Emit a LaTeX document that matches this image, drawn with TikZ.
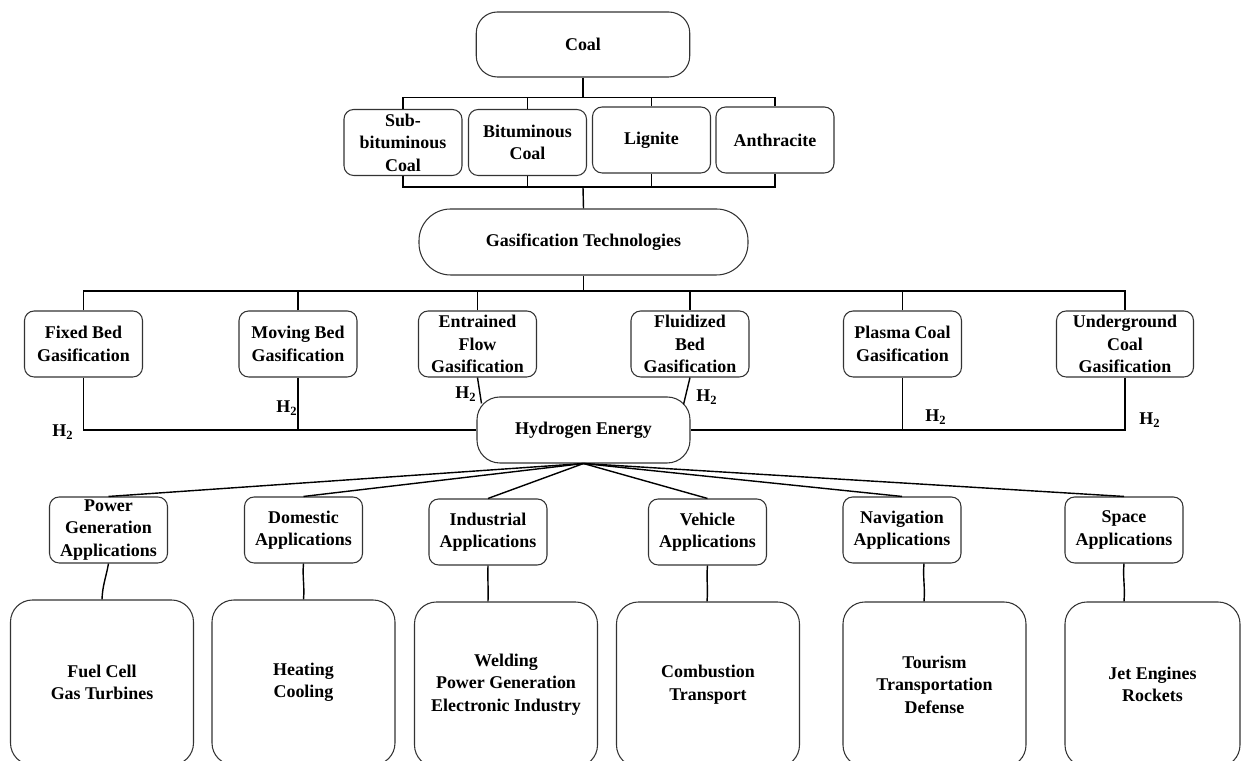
\documentclass[tikz,border=0pt]{standalone}
\usepackage{fontspec}
\setmainfont{Liberation Serif}
\usetikzlibrary{positioning,calc}

\begin{document}
\begin{tikzpicture}[
  every node/.style={font=\fontsize{10.2}{12.8}\selectfont\bfseries},
  box/.style={draw=black!80, fill=white, rounded corners=5.5pt,
              minimum width=2.36cm, minimum height=1.32cm,
              align=center, inner sep=1pt, line width=0.6pt},
  topbox/.style={box, rounded corners=12pt, minimum width=4.27cm},
  usebox/.style={box, rounded corners=12.5pt, minimum width=3.66cm,
                 minimum height=3.3cm},
  link/.style={draw=black, line width=0.8pt},
  hlab/.style={inner sep=0pt}
]
\useasboundingbox (0,0) rectangle (24.84,15.22);

%% Coal and coal types
\node[topbox, minimum height=1.3cm] (coal) at (11.66,14.33) {Coal};
\node[box] (sub) at (8.06,12.37)  {Sub-\\bituminous\\Coal};
\node[box] (bit) at (10.55,12.37) {Bituminous\\Coal};
\node[box] (lig) at (13.03,12.42) {Lignite};
\node[box] (ant) at (15.50,12.42) {Anthracite};

%% Gasification
\node[box, rounded corners=18pt, minimum width=6.58cm] (gas) at (11.67,10.38)
  {Gasification Technologies};
\node[box] (fixed)  at (1.67,8.34)  {Fixed Bed\\Gasification};
\node[box] (moving) at (5.96,8.34)  {Moving Bed\\Gasification};
\node[box] (entr)   at (9.55,8.34)  {Entrained\\Flow\\Gasification};
\node[box] (fluid)  at (13.80,8.34) {Fluidized\\Bed\\Gasification};
\node[box] (plasma) at (18.05,8.34) {Plasma Coal\\Gasification};
\node[box, minimum width=2.74cm] (under) at (22.50,8.34)
  {Underground\\Coal\\Gasification};

%% Hydrogen
\node[topbox, rounded corners=13pt, minimum width=4.26cm] (hyd) at (11.67,6.62)
  {Hydrogen Energy};

%% Applications
\node[box] (pga) at (2.17,4.62)  {Power\\Generation\\Applications};
\node[box] (dom) at (6.07,4.62)  {Domestic\\Applications};
\node[box] (ind) at (9.76,4.58)  {Industrial\\Applications};
\node[box] (veh) at (14.15,4.58) {Vehicle\\Applications};
\node[box] (nav) at (18.04,4.62) {Navigation\\Applications};
\node[box] (spa) at (22.48,4.62) {Space\\Applications};

%% Uses
\node[usebox] (fuel) at (2.04,1.57)  {Fuel Cell\\Gas Turbines};
\node[usebox] (heat) at (6.07,1.57)  {Heating\\Cooling};
\node[usebox] (weld) at (10.12,1.53) {Welding\\Power Generation\\Electronic Industry};
\node[usebox] (comb) at (14.16,1.53) {Combustion\\Transport};
\node[usebox] (tour) at (18.69,1.53) {Tourism\\Transportation\\Defense};
\node[usebox, minimum width=3.5cm] (jet) at (23.05,1.53) {Jet Engines\\Rockets};

%% Coal tree
\coordinate (topbar) at (11.66,13.27);
\coordinate (botbar) at (11.66,11.48);
\draw[link] (coal.south) -- (topbar);
\draw[link] (sub.north) |- (topbar) -| (ant.north);
\draw[link] (sub.south) |- (botbar) -| (ant.south);
\foreach \t in {bit,lig} {
  \draw[link] (\t.north) -- (\t.north |- topbar);
  \draw[link] (\t.south) -- (\t.south |- botbar);
}
\draw[link] (botbar) -- (gas.north);

%% Gasification tree
\coordinate (gasbar) at (11.67,9.40);
\draw[link] (gas.south) -- (gasbar);
\draw[link] (fixed.north) |- (gasbar) -| (under.north);
\foreach \g in {moving,entr,fluid,plasma}
  \draw[link] (\g.north) -- (\g.north |- gasbar);

%% Hydrogen collection
\draw[link] (fixed.south) |- (hyd.west);
\draw[link] (moving.south) -- (moving.south |- hyd.west);
\draw[link] (entr.south) -- ([shift={(0.1,-0.14)}]hyd.north west);
\draw[link] (fluid.south) -- ([shift={(-0.14,-0.16)}]hyd.north east);
\draw[link] (under.south) |- (hyd.east);
\draw[link] (plasma.south) -- (plasma.south |- hyd.east);

\node[hlab] (h1) at (1.26,6.58)  {H\textsubscript{2}};
\node[hlab] (h2) at (5.74,7.06)  {H\textsubscript{2}};
\node[hlab] (h3) at (9.32,7.34)  {H\textsubscript{2}};
\node[hlab] (h4) at (14.14,7.28) {H\textsubscript{2}};
\node[hlab] (h5) at (18.72,6.88) {H\textsubscript{2}};
\node[hlab] (h6) at (23.00,6.82) {H\textsubscript{2}};

%% Applications fan
\foreach \a in {pga,dom,ind,veh,nav,spa}
  \draw[link] (hyd.south) -- (\a.north);

%% Application to uses
\draw[link] (pga.south) to[out=-100,in=88] (fuel.north);
\draw[link] (dom.south) to[out=-95,in=85] (heat.north);
\draw[link] (ind.south) to[out=-92,in=88] ([xshift=-0.36cm]weld.north);
\draw[link] (veh.south) to[out=-95,in=85] ([xshift=-0.02cm]comb.north);
\draw[link] ([xshift=0.44cm]nav.south) to[out=-95,in=85] ([xshift=-0.21cm]tour.north);
\draw[link] (spa.south) to[out=-95,in=85] ([xshift=-0.57cm]jet.north);

\end{tikzpicture}
\end{document}
